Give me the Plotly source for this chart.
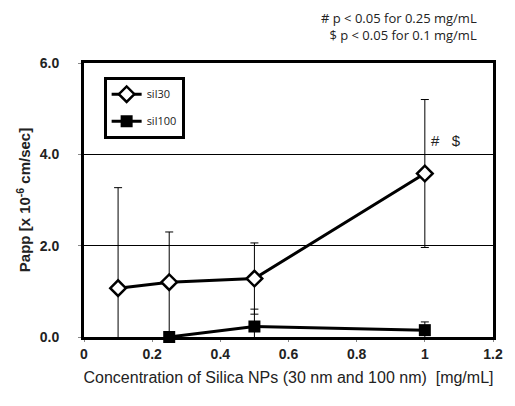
import plotly.graph_objects as go

conc_sil30 = [0.1, 0.25, 0.5, 1.0]
papp_sil30 = [1.07, 1.2, 1.28, 3.58]
err_sil30 = [2.2, 1.1, 0.78, 1.62]

conc_sil100 = [0.25, 0.5, 1.0]
papp_sil100 = [0.0, 0.23, 0.15]
err_sil100 = [0.02, 0.38, 0.18]

x_ticks = [0, 0.2, 0.4, 0.6, 0.8, 1.0, 1.2]
x_tick_labels = ["0", "0.2", "0.4", "0.6", "0.8", "1", "1.2"]
y_ticks = [0, 2, 4, 6]
y_tick_labels = ["0.0", "2.0", "4.0", "6.0"]

fig = go.Figure()
fig.add_trace(go.Scatter(
    x=conc_sil30, y=papp_sil30, name="sil30", mode="lines+markers", legendgroup="a",
    line=dict(color="black", width=3),
    marker=dict(symbol="diamond", size=12, color="white", line=dict(color="black", width=2.5)),
    error_y=dict(type="data", array=err_sil30, color="black", thickness=1, width=4),
    cliponaxis=False,
))
fig.add_trace(go.Scatter(
    x=conc_sil100, y=papp_sil100, name="sil100", mode="lines+markers", legendgroup="b",
    line=dict(color="black", width=3),
    marker=dict(symbol="square", size=12, color="black"),
    error_y=dict(type="data", array=err_sil100, color="black", thickness=1, width=4),
    cliponaxis=False,
))

fig.add_annotation(x=1.0, y=4.3, xref="x", yref="y", text="#   $", showarrow=False,
                   xanchor="left", xshift=4, font=dict(family="Liberation Sans", size=15, color="#222"))
fig.add_annotation(x=0.965, y=1.0, xref="paper", yref="paper", yshift=17,
                   text="# p < 0.05 for 0.25 mg/mL<br>$ p < 0.05 for 0.1 mg/mL",
                   showarrow=False, xanchor="right", yanchor="bottom", align="right",
                   font=dict(family="Open Sans", size=13, color="#222"))

fig.update_layout(
    width=515, height=406,
    margin=dict(l=84, r=18, t=63, b=69),
    paper_bgcolor="white", plot_bgcolor="white",
    showlegend=True,
    legend=dict(x=0.048, y=0.95, xanchor="left", yanchor="top", traceorder="grouped",
                bordercolor="black", borderwidth=3, bgcolor="white",
                font=dict(family="Open Sans", size=11, color="#222"),
                itemwidth=30, tracegroupgap=8),
    xaxis=dict(range=[0, 1.2], tickvals=x_ticks, ticktext=x_tick_labels, showgrid=False,
               showline=True, linecolor="black", linewidth=3, mirror=True, zeroline=False,
               ticks="outside", ticklen=2, tickcolor="#888",
               tickfont=dict(family="Liberation Sans", size=14, color="#222", weight="bold"),
               title=dict(text="Concentration of Silica NPs (30 nm and 100 nm)  [mg/mL]",
                          font=dict(family="Liberation Sans", size=16, color="#222"), standoff=12)),
    yaxis=dict(range=[0, 6], tickvals=y_ticks, ticktext=y_tick_labels, showgrid=True, gridcolor="black",
               gridwidth=1, showline=True, linecolor="black", linewidth=3, mirror=True, zeroline=False,
               ticks="outside", ticklen=3, tickcolor="#888", ticklabelstandoff=16,
               tickfont=dict(family="Liberation Sans", size=14, color="#222", weight="bold"),
               title=dict(text="<b>Papp [x 10<sup>-6</sup> cm/sec]</b>",
                          font=dict(family="Liberation Sans", size=15, color="#222"), standoff=6)),
)

fig.write_html("out.html")
